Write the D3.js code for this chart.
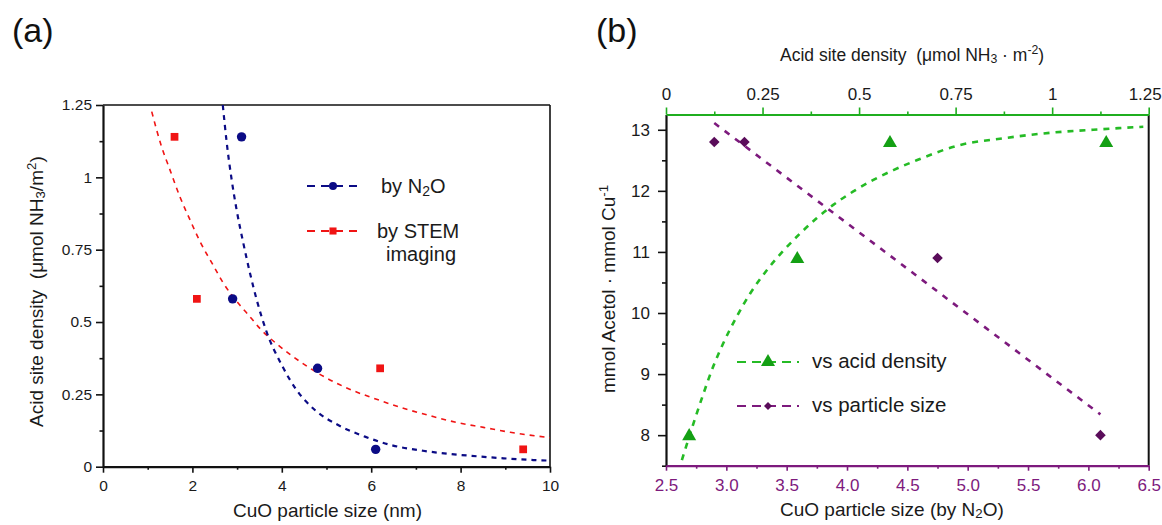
<!DOCTYPE html>
<html>
<head>
<meta charset="utf-8">
<script src="https://cdn.jsdelivr.net/npm/d3@7"></script>
<style>
body { margin: 0; background: #fff; }
svg { display: block; font-family: "Liberation Sans", Arial, sans-serif; }
</style>
</head>
<body>
<svg width="1162" height="525"></svg>
<script>
// ---- panel (a) data ----
var n2oSize = [3.1, 2.9, 4.8, 6.1];
var n2oDensity = [1.14, 0.58, 0.34, 0.06];
var stemSize = [1.6, 2.1, 6.2, 9.4];
var stemDensity = [1.14, 0.58, 0.34, 0.06];
// fitted curves
var n2oFitX = [2.68, 2.77, 2.88, 2.99, 3.14, 3.29, 3.44, 3.66, 4.00, 4.33, 4.74, 5.26, 5.86, 6.49, 7.16, 7.76, 8.36, 8.96, 9.63, 10];
var n2oFitY = [1.25, 1.117, 0.99, 0.887, 0.772, 0.668, 0.576, 0.466, 0.351, 0.265, 0.196, 0.144, 0.104, 0.073, 0.055, 0.044, 0.036, 0.029, 0.023, 0.021];
var stemFitX = [1.09, 1.31, 1.50, 1.72, 1.95, 2.17, 2.47, 2.69, 3.06, 3.29, 3.51, 3.96, 4.41, 4.97, 5.53, 6.12, 6.72, 7.32, 7.91, 8.51, 9.11, 9.70, 10];
var stemFitY = [1.227, 1.106, 1.025, 0.933, 0.852, 0.778, 0.695, 0.635, 0.559, 0.518, 0.478, 0.415, 0.363, 0.309, 0.267, 0.233, 0.202, 0.176, 0.153, 0.136, 0.119, 0.106, 0.100];
var aXTicks = [0, 2, 4, 6, 8, 10];
var aXMinor = [1, 3, 5, 7, 9];
var aYTicks = [0, 0.25, 0.5, 0.75, 1, 1.25];
var aYLabels = ["0", "0.25", "0.5", "0.75", "1", "1.25"];
var aYMinor = [0.125, 0.375, 0.625, 0.875, 1.125];

// ---- panel (b) data ----
var acidDensity = [0.58, 1.14, 0.34, 0.06];
var acetolVsAcid = [12.8, 12.8, 10.9, 8.0];
var particleSize = [2.9, 3.15, 4.75, 6.1];
var acetolVsSize = [12.8, 12.8, 10.9, 8.0];
var acidFitX = [0.041, 0.071, 0.097, 0.122, 0.148, 0.183, 0.218, 0.261, 0.304, 0.347, 0.39, 0.433, 0.485, 0.537, 0.589, 0.649, 0.761, 0.873, 0.994, 1.106, 1.236];
var acidFitY = [7.59, 8.19, 8.68, 9.12, 9.50, 9.94, 10.32, 10.70, 11.02, 11.30, 11.55, 11.77, 11.99, 12.18, 12.34, 12.50, 12.75, 12.86, 12.95, 13.0, 13.05];
var sizeFitX = [2.9, 6.1];
var sizeFitY = [13.11, 8.34];
var bXTicks = [2.5, 3, 3.5, 4, 4.5, 5, 5.5, 6, 6.5];
var bXLabels = ["2.5", "3.0", "3.5", "4.0", "4.5", "5.0", "5.5", "6.0", "6.5"];
var bXMinor = [2.75, 3.25, 3.75, 4.25, 4.75, 5.25, 5.75, 6.25];
var bTopTicks = [0, 0.25, 0.5, 0.75, 1, 1.25];
var bTopLabels = ["0", "0.25", "0.5", "0.75", "1", "1.25"];
var bTopMinor = [0.125, 0.375, 0.625, 0.875, 1.125];
var bYTicks = [8, 9, 10, 11, 12, 13];
var bYLabels = ["8", "9", "10", "11", "12", "13"];
var bYMinor = [7.5, 8.5, 9.5, 10.5, 11.5, 12.5];

var blue = "#0b0b85", red = "#f01414", green = "#1fae1f", purple = "#7d1a7d";

var svg = d3.select("svg");
svg.append("rect").attr("width", 1162).attr("height", 525).attr("fill", "#fff");

// write text with sub/superscript pieces
function rich(t, parts) {
  parts.forEach(function(p) {
    var s = t.append("tspan").text(p[0]);
    if (p[1] == "sub") s.attr("baseline-shift", "-18%").attr("font-size", "70%");
    if (p[1] == "sup") s.attr("baseline-shift", "super").attr("font-size", "70%");
  });
  return t;
}

function styleAxis(g, color, width, fontSize, labelColor) {
  g.select(".domain").attr("stroke", color).attr("stroke-width", width);
  g.selectAll(".tick line").attr("stroke", color).attr("stroke-width", 1.6);
  g.selectAll(".tick text").attr("fill", labelColor).attr("font-size", fontSize)
    .attr("font-family", "Liberation Sans, Arial, sans-serif");
}

function minorAxis(axis, transform, color) {
  var g = svg.append("g").attr("transform", transform).call(axis.tickFormat(""));
  g.select(".domain").remove();
  g.selectAll(".tick line").attr("stroke", color).attr("stroke-width", 1.6);
}

// ================= panel (a) =================
var xA = d3.scaleLinear().domain([0, 10]).range([103, 550]);
var yA = d3.scaleLinear().domain([0, 1.25]).range([466.7, 105]);

// frame top / right
svg.append("line").attr("x1", xA(0)).attr("x2", xA(10)).attr("y1", yA(1.25)).attr("y2", yA(1.25))
  .attr("stroke", "#111").attr("stroke-width", 1.6);
svg.append("line").attr("x1", xA(10)).attr("x2", xA(10)).attr("y1", yA(0)).attr("y2", yA(1.25))
  .attr("stroke", "#111").attr("stroke-width", 1.6);

var gAx = svg.append("g").attr("transform", "translate(0," + yA(0) + ")")
  .call(d3.axisBottom(xA).tickValues(aXTicks).tickSize(6).tickPadding(7).tickSizeOuter(0));
styleAxis(gAx, "#111", 2.2, "15.5px", "#1a1a1a");
minorAxis(d3.axisBottom(xA).tickValues(aXMinor).tickSize(3), "translate(0," + yA(0) + ")", "#111");

var gAy = svg.append("g").attr("transform", "translate(" + xA(0) + ",0)")
  .call(d3.axisLeft(yA).tickValues(aYTicks).tickSize(7).tickPadding(4).tickSizeOuter(0)
    .tickFormat(function(d, i) { return aYLabels[i]; }));
styleAxis(gAy, "#111", 2.2, "15.5px", "#1a1a1a");
minorAxis(d3.axisLeft(yA).tickValues(aYMinor).tickSize(3.5), "translate(" + xA(0) + ",0)", "#111");

// fitted curves
var lineA = d3.line().curve(d3.curveMonotoneX)
  .x(function(d) { return xA(d[0]); })
  .y(function(d) { return yA(d[1]); });

svg.append("path").datum(d3.zip(stemFitX, stemFitY)).attr("d", lineA)
  .attr("fill", "none").attr("stroke", red).attr("stroke-width", 1.6).attr("stroke-dasharray", "5,5");
svg.append("path").datum(d3.zip(n2oFitX, n2oFitY)).attr("d", lineA)
  .attr("fill", "none").attr("stroke", blue).attr("stroke-width", 2.2).attr("stroke-dasharray", "5,5");

// points
svg.append("g").selectAll("path").data(d3.zip(stemSize, stemDensity)).enter().append("path")
  .attr("d", d3.symbol().type(d3.symbolSquare).size(60))
  .attr("transform", function(d) { return "translate(" + xA(d[0]) + "," + yA(d[1]) + ")"; })
  .attr("fill", red);
svg.append("g").selectAll("circle").data(d3.zip(n2oSize, n2oDensity)).enter().append("circle")
  .attr("cx", function(d) { return xA(d[0]); })
  .attr("cy", function(d) { return yA(d[1]); })
  .attr("r", 4.7).attr("fill", blue);

// legend (a)
svg.append("line").attr("x1", 307).attr("x2", 362).attr("y1", 186).attr("y2", 186)
  .attr("stroke", blue).attr("stroke-width", 2).attr("stroke-dasharray", "8,6");
svg.append("circle").attr("cx", 333).attr("cy", 186).attr("r", 4).attr("fill", blue);
rich(svg.append("text").attr("x", 381).attr("y", 192.5).attr("font-size", "20px").attr("fill", "#1a1a1a"),
  [["by N"], ["2", "sub"], ["O"]]);

svg.append("line").attr("x1", 307).attr("x2", 362).attr("y1", 231).attr("y2", 231)
  .attr("stroke", red).attr("stroke-width", 2).attr("stroke-dasharray", "8,6");
svg.append("path").attr("d", d3.symbol().type(d3.symbolSquare).size(50))
  .attr("transform", "translate(333,231)").attr("fill", red);
svg.append("text").attr("x", 377).attr("y", 237.5).attr("font-size", "20px").attr("fill", "#1a1a1a").text("by STEM");
svg.append("text").attr("x", 421).attr("y", 261).attr("font-size", "20px").attr("fill", "#1a1a1a")
  .attr("text-anchor", "middle").text("imaging");

// titles (a)
svg.append("text").attr("x", 12).attr("y", 42).attr("font-size", "34px").attr("fill", "#111").text("(a)");
svg.append("text").attr("x", 233).attr("y", 517).attr("font-size", "19px").attr("fill", "#1a1a1a")
  .text("CuO particle size (nm)");
rich(svg.append("text").attr("transform", "translate(43,427) rotate(-90)").attr("font-size", "19px")
  .attr("fill", "#1a1a1a").style("white-space", "pre"),
  [["Acid site density  (\u03bcmol NH"], ["3", "sub"], ["/m"], ["2", "sup"], [")"]]);

// ================= panel (b) =================
var xB = d3.scaleLinear().domain([2.5, 6.5]).range([666, 1148.7]);
var xT = d3.scaleLinear().domain([0, 1.25]).range([666, 1148.7]);
var yB = d3.scaleLinear().domain([7.5, 13.25]).range([465.7, 114.5]);

// right frame
svg.append("line").attr("x1", 1148.7).attr("x2", 1148.7).attr("y1", yB(7.5)).attr("y2", yB(13.25))
  .attr("stroke", "#111").attr("stroke-width", 2);

var gBy = svg.append("g").attr("transform", "translate(666,0)")
  .call(d3.axisLeft(yB).tickValues(bYTicks).tickSize(8).tickPadding(8).tickSizeOuter(0)
    .tickFormat(function(d, i) { return bYLabels[i]; }));
styleAxis(gBy, "#111", 2.2, "17px", "#1a1a1a");
minorAxis(d3.axisLeft(yB).tickValues(bYMinor).tickSize(4), "translate(666,0)", "#111");

var gBx = svg.append("g").attr("transform", "translate(0," + yB(7.5) + ")")
  .call(d3.axisBottom(xB).tickValues(bXTicks).tickSize(5).tickPadding(8).tickSizeOuter(0)
    .tickFormat(function(d, i) { return bXLabels[i]; }));
styleAxis(gBx, purple, 2.2, "17px", purple);
minorAxis(d3.axisBottom(xB).tickValues(bXMinor).tickSize(3), "translate(0," + yB(7.5) + ")", purple);

var gBt = svg.append("g").attr("transform", "translate(0," + yB(13.25) + ")")
  .call(d3.axisTop(xT).tickValues(bTopTicks).tickSize(7).tickPadding(8).tickSizeOuter(0)
    .tickFormat(function(d, i) { return bTopLabels[i]; }));
styleAxis(gBt, green, 2.2, "17px", "#1a1a1a");
// last label sits at the page edge: nudge it in so it is not clipped
gBt.selectAll(".tick text").filter(function(d) { return d == 1.25; }).attr("dx", "-4");
minorAxis(d3.axisTop(xT).tickValues(bTopMinor).tickSize(3), "translate(0," + yB(13.25) + ")", green);

// fits
var lineAcid = d3.line().curve(d3.curveMonotoneX)
  .x(function(d) { return xT(d[0]); })
  .y(function(d) { return yB(d[1]); });
var lineSize = d3.line()
  .x(function(d) { return xB(d[0]); })
  .y(function(d) { return yB(d[1]); });

svg.append("path").datum(d3.zip(sizeFitX, sizeFitY)).attr("d", lineSize)
  .attr("fill", "none").attr("stroke", purple).attr("stroke-width", 2.6).attr("stroke-dasharray", "6,7");
svg.append("path").datum(d3.zip(acidFitX, acidFitY)).attr("d", lineAcid)
  .attr("fill", "none").attr("stroke", "#25bb25").attr("stroke-width", 2.6).attr("stroke-dasharray", "6,6");

// points
svg.append("g").selectAll("path").data(d3.zip(acidDensity, acetolVsAcid)).enter().append("path")
  .attr("d", d3.symbol().type(d3.symbolTriangle).size(85))
  .attr("transform", function(d) { return "translate(" + xT(d[0]) + "," + (yB(d[1]) + 1) + ")"; })
  .attr("fill", "#14a014");
svg.append("g").selectAll("path").data(d3.zip(particleSize, acetolVsSize)).enter().append("path")
  .attr("d", d3.symbol().type(d3.symbolSquare).size(56))
  .attr("transform", function(d) { return "translate(" + xB(d[0]) + "," + yB(d[1]) + ") rotate(45)"; })
  .attr("fill", "#5a0c5a");

// legend (b)
svg.append("line").attr("x1", 737).attr("x2", 799).attr("y1", 362).attr("y2", 362)
  .attr("stroke", "#25bb25").attr("stroke-width", 2.2).attr("stroke-dasharray", "9,6");
svg.append("path").attr("d", d3.symbol().type(d3.symbolTriangle).size(85))
  .attr("transform", "translate(768,362)").attr("fill", "#14a014");
svg.append("text").attr("x", 812).attr("y", 367.5).attr("font-size", "20.5px").attr("fill", "#1a1a1a")
  .text("vs acid density");

svg.append("line").attr("x1", 737).attr("x2", 799).attr("y1", 406).attr("y2", 406)
  .attr("stroke", purple).attr("stroke-width", 2.2).attr("stroke-dasharray", "9,6");
svg.append("path").attr("d", d3.symbol().type(d3.symbolSquare).size(32))
  .attr("transform", "translate(768,406) rotate(45)").attr("fill", "#5a0c5a");
svg.append("text").attr("x", 812).attr("y", 412).attr("font-size", "20.5px").attr("fill", "#1a1a1a")
  .text("vs particle size");

// titles (b)
svg.append("text").attr("x", 596).attr("y", 42).attr("font-size", "34px").attr("fill", "#111").text("(b)");
rich(svg.append("text").attr("x", 780).attr("y", 61).attr("font-size", "17.5px").attr("fill", "#1a1a1a")
  .style("white-space", "pre"),
  [["Acid site density  (\u03bcmol NH"], ["3", "sub"], [" \u00b7 m"], ["-2", "sup"], [")"]]);
rich(svg.append("text").attr("x", 780).attr("y", 516).attr("font-size", "19px").attr("fill", "#1a1a1a"),
  [["CuO particle size (by N"], ["2", "sub"], ["O)"]]);
rich(svg.append("text").attr("transform", "translate(615,393) rotate(-90)").attr("font-size", "19px")
  .attr("fill", "#1a1a1a"),
  [["mmol Acetol \u00b7 mmol Cu"], ["-1", "sup"]]);
</script>
</body>
</html>
